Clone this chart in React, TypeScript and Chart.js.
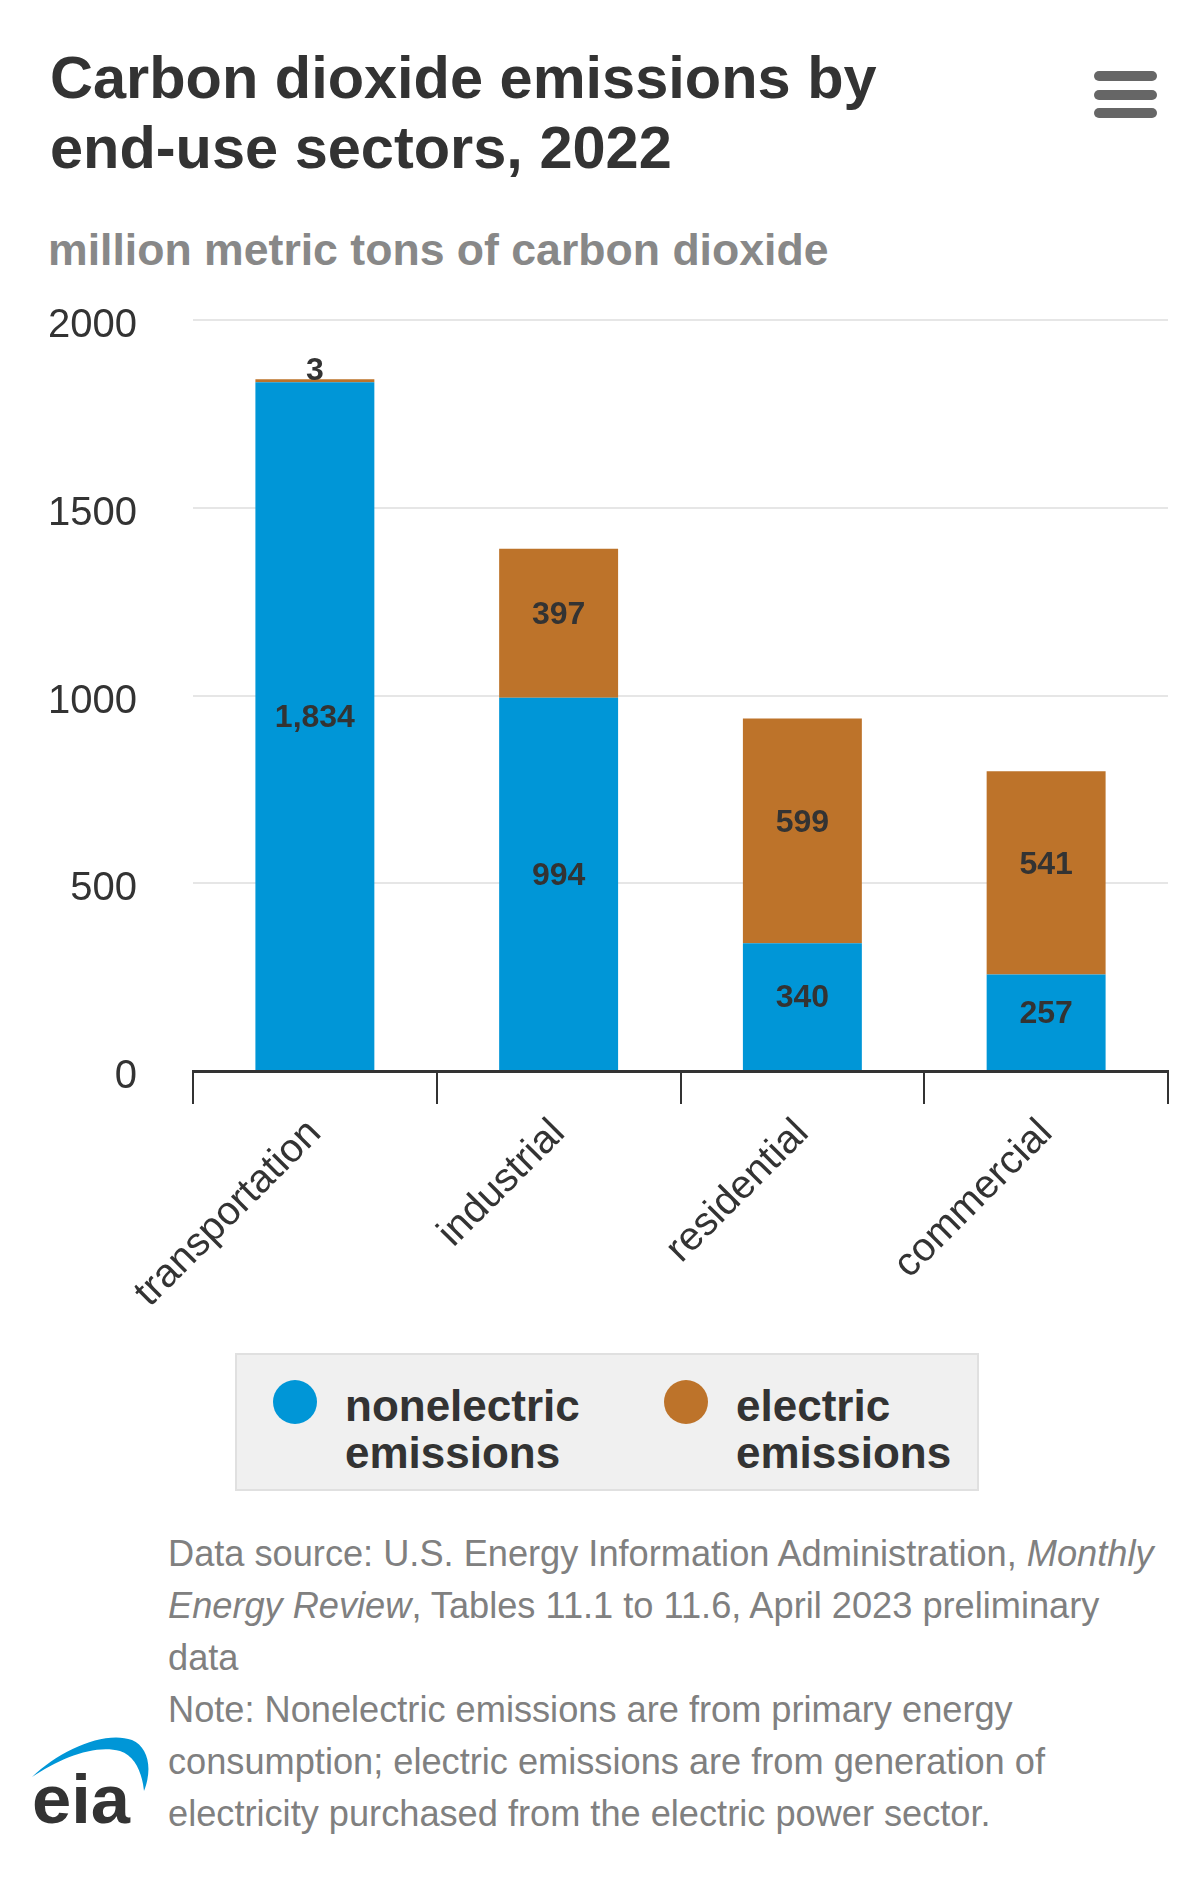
import React, { useEffect, useRef } from "react";
import { Chart, registerables } from "chart.js";

Chart.register(...registerables);

const titleLines = ["Carbon dioxide emissions by", "end-use sectors, 2022"];
const subtitle = "million metric tons of carbon dioxide";
const categories = ["transportation", "industrial", "residential", "commercial"];
const nonelectric = [1834, 994, 340, 257];
const electric = [3, 397, 599, 541];
const seriesNames = ["nonelectric emissions", "electric emissions"];
const legendLines = [
  ["nonelectric", "emissions"],
  ["electric", "emissions"],
];
const seriesColors = ["#0096d7", "#bd732a"];
const yMin = 0;
const yMax = 2000;
const yStep = 500;

const FONT = "'Liberation Sans', Arial, Helvetica, sans-serif";

const segLabelPlugin = {
  id: "segLabels",
  afterDatasetsDraw(chart: any) {
    const ctx = chart.ctx;
    ctx.save();
    ctx.font = `bold 32px ${FONT}`;
    ctx.fillStyle = "#333333";
    ctx.textAlign = "center";
    chart.data.datasets.forEach((ds: any, di: number) => {
      const meta = chart.getDatasetMeta(di);
      meta.data.forEach((bar: any, i: number) => {
        const v = ds.data[i];
        const p = bar.getProps(["x", "y", "base"], true);
        const top = Math.min(p.y, p.base);
        const h = Math.abs(p.base - p.y);
        const txt = Number(v).toLocaleString("en-US");
        if (h < 40) {
          ctx.textBaseline = "alphabetic";
          ctx.fillText(txt, p.x, top + 1);
        } else {
          ctx.textBaseline = "middle";
          ctx.fillText(txt, p.x, (p.y + p.base) / 2 - 8);
        }
      });
    });
    ctx.restore();
  },
};

function ChartCanvas() {
  const ref = useRef<HTMLCanvasElement | null>(null);
  useEffect(() => {
    if (!ref.current) return;
    const chart = new Chart(ref.current, {
      type: "bar",
      data: {
        labels: categories,
        datasets: [
          {
            label: seriesNames[0],
            data: nonelectric,
            backgroundColor: seriesColors[0],
            borderWidth: 0,
            barPercentage: 1,
            categoryPercentage: 0.488,
          },
          {
            label: seriesNames[1],
            data: electric,
            backgroundColor: seriesColors[1],
            borderWidth: 0,
            barPercentage: 1,
            categoryPercentage: 0.488,
            minBarLength: 3,
          },
        ],
      },
      options: {
        responsive: false,
        animation: false,
        devicePixelRatio: 1,
        layout: { padding: { top: 19, right: 32, left: 0, bottom: 0 } },
        plugins: {
          legend: { display: false },
          title: { display: false },
          tooltip: { enabled: false },
        },
        scales: {
          x: {
            stacked: true,
            offset: true,
            grid: {
              offset: true,
              drawOnChartArea: false,
              drawTicks: true,
              tickLength: 33,
              color: "#333333",
              lineWidth: 2,
            },
            border: { display: true, color: "#333333", width: 3, z: 1 },
            ticks: {
              autoSkip: false,
              maxRotation: 45,
              minRotation: 45,
              padding: 6,
              color: "#333333",
              font: { family: FONT, size: 40 },
            },
            afterFit: (scale: any) => {
              scale.height = 279;
            },
          },
          y: {
            stacked: true,
            min: yMin,
            max: yMax,
            grid: {
              drawTicks: false,
              color: (c: any) => (c.tick && c.tick.value === 0 ? "rgba(0,0,0,0)" : "#e6e6e6"),
              lineWidth: 2,
            },
            border: { display: false },
            ticks: {
              stepSize: yStep,
              padding: 56,
              labelOffset: 6,
              color: "#333333",
              font: { family: FONT, size: 40 },
              callback: (v: any) => String(v),
            },
            afterFit: (scale: any) => {
              scale.width = 193;
            },
          },
        },
      },
      plugins: [segLabelPlugin],
    } as any);
    return () => chart.destroy();
  }, []);
  return (
    <canvas
      ref={ref}
      width={1200}
      height={1110}
      style={{ position: "absolute", left: 0, top: 240, width: 1200, height: 1110 }}
    />
  );
}

function Hamburger() {
  const bars = [76, 94.5, 113];
  return (
    <>
      {bars.map((y, i) => (
        <div
          key={i}
          style={{
            position: "absolute",
            left: 1094,
            top: y - 5,
            width: 63,
            height: 10,
            borderRadius: 5,
            background: "#666666",
          }}
        />
      ))}
    </>
  );
}

function Logo() {
  return (
    <svg
      width={160}
      height={120}
      style={{ position: "absolute", left: 20, top: 1720 }}
      viewBox="0 0 160 120"
    >
      <path
        d="M 12 57 C 40 30, 85 10, 112 20 C 128 27, 133 48, 124 71 C 122 52, 115 36, 100 31 C 75 24, 40 38, 12 57 Z"
        fill="#0096d7"
      />
      <text
        x={12}
        y={103}
        fontFamily={FONT}
        fontWeight="bold"
        fontSize={68}
        fill="#333333"
        textLength={98}
        lengthAdjust="spacingAndGlyphs"
      >
        eia
      </text>
    </svg>
  );
}

export default function App() {
  return (
    <div
      style={{
        position: "absolute",
        left: 0,
        top: 0,
        width: 1200,
        height: 1882,
        background: "#ffffff",
        fontFamily: FONT,
        overflow: "hidden",
      }}
    >
      <div
        style={{
          position: "absolute",
          left: 50,
          top: 43,
          fontSize: 59.5,
          lineHeight: "70px",
          fontWeight: "bold",
          color: "#333333",
          whiteSpace: "nowrap",
        }}
      >
        {titleLines.map((l, i) => (
          <div key={i}>{l}</div>
        ))}
      </div>
      <Hamburger />
      <div
        style={{
          position: "absolute",
          left: 48,
          top: 225,
          fontSize: 44.6,
          lineHeight: "50px",
          fontWeight: "bold",
          color: "#888888",
          whiteSpace: "nowrap",
        }}
      >
        {subtitle}
      </div>
      <ChartCanvas />
      <div
        style={{
          position: "absolute",
          left: 235,
          top: 1353,
          width: 744,
          height: 138,
          boxSizing: "border-box",
          background: "#f0f0f0",
          border: "2px solid #e0e0e0",
        }}
      />
      {legendLines.map((lines, i) => {
        const cx = i === 0 ? 295 : 686;
        const tx = i === 0 ? 345 : 736;
        return (
          <React.Fragment key={i}>
            <div
              style={{
                position: "absolute",
                left: cx - 22,
                top: 1402 - 22,
                width: 44,
                height: 44,
                borderRadius: "50%",
                background: seriesColors[i],
              }}
            />
            <div
              style={{
                position: "absolute",
                left: tx,
                top: 1382,
                fontSize: 44,
                lineHeight: "47px",
                fontWeight: "bold",
                color: "#333333",
                whiteSpace: "nowrap",
              }}
            >
              {lines.map((l, j) => (
                <div key={j}>{l}</div>
              ))}
            </div>
          </React.Fragment>
        );
      })}
      <div
        style={{
          position: "absolute",
          left: 168,
          top: 1528,
          fontSize: 36.2,
          lineHeight: "52px",
          color: "#808080",
          whiteSpace: "nowrap",
        }}
      >
        <div>
          Data source: U.S. Energy Information Administration, <i>Monthly</i>
        </div>
        <div>
          <i>Energy Review</i>, Tables 11.1 to 11.6, April 2023 preliminary
        </div>
        <div>data</div>
        <div>Note: Nonelectric emissions are from primary energy</div>
        <div>consumption; electric emissions are from generation of</div>
        <div>electricity purchased from the electric power sector.</div>
      </div>
      <Logo />
    </div>
  );
}
